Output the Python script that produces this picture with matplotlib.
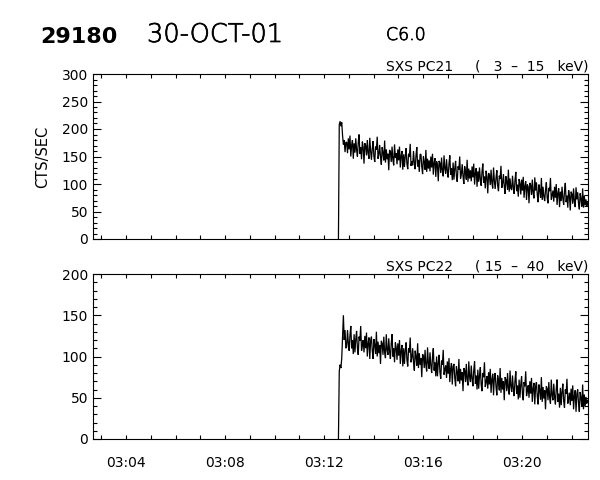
import numpy as np
import matplotlib
matplotlib.use("Agg")
import matplotlib.pyplot as plt
import matplotlib.patheffects as pe
from matplotlib.ticker import MultipleLocator, FuncFormatter

# ---------------- data ----------------
plot_id = "29180"
date_str = "30-OCT-01"
goes_class = "C6.0"
ylabel = "CTS/SEC"
ch1_title = "SXS PC21     (   3  \u2013  15   keV)"
ch2_title = "SXS PC22     ( 15  \u2013  40   keV)"
start_time = "03:12:35"      # first sample of the light curves
cadence_s = 2                # seconds between samples
x_start = "03:02:40"
x_end = "03:22:40"

# SXS PC21 (3-15 keV) counts/s
pc21 = [
    0, 208, 214, 205, 212, 188, 172, 180, 158, 176,
    176, 156, 183, 163, 188, 150, 171, 180, 146, 174,
    157, 183, 162, 150, 175, 190, 155, 167, 145, 177,
    167, 137, 174, 170, 152, 180, 156, 146, 184, 160,
    144, 164, 178, 150, 140, 168, 162, 186, 146, 154,
    171, 149, 135, 167, 157, 143, 179, 139, 163, 145,
    155, 125, 162, 158, 140, 168, 144, 134, 172, 148,
    156, 136, 163, 143, 168, 130, 151, 160, 126, 154,
    131, 151, 165, 137, 127, 155, 149, 173, 133, 141,
    134, 160, 139, 127, 152, 167, 132, 144, 122, 154,
    154, 132, 118, 150, 140, 126, 162, 122, 146, 128,
    143, 123, 150, 130, 155, 117, 138, 147, 113, 141,
    135, 105, 142, 138, 120, 148, 124, 114, 152, 128,
    119, 145, 124, 112, 137, 152, 117, 129, 107, 139,
    108, 128, 142, 114, 104, 132, 126, 150, 110, 118,
    136, 114, 100, 132, 122, 108, 144, 104, 128, 110,
    125, 105, 132, 112, 137, 99, 120, 129, 95, 123,
    104, 130, 109, 97, 122, 137, 102, 114, 92, 124,
    113, 83, 120, 116, 98, 126, 102, 92, 130, 106,
    91, 111, 125, 97, 87, 115, 109, 133, 93, 101,
    118, 96, 82, 114, 104, 90, 126, 86, 110, 92,
    89, 115, 94, 82, 107, 122, 87, 99, 77, 109,
    101, 81, 108, 88, 113, 75, 96, 105, 71, 99,
    95, 65, 102, 98, 80, 108, 84, 74, 112, 88,
    103, 81, 67, 99, 89, 75, 111, 71, 95, 77,
    69, 89, 103, 75, 65, 93, 87, 111, 71, 79,
    88, 68, 95, 75, 100, 62, 83, 92, 58, 86,
    69, 95, 74, 62, 87, 102, 67, 79, 57, 89,
    79, 52, 86, 82, 64, 92, 68, 58, 94, 72,
    85, 65, 54, 83, 73, 59, 92, 57, 79, 61,
    72, 60, 66,
]

# SXS PC22 (15-40 keV) counts/s
pc22 = [
    0, 82, 90, 86, 98, 125, 150, 120, 132, 110,
    112, 132, 116, 107, 126, 137, 110, 120, 103, 127,
    105, 121, 131, 110, 102, 124, 119, 137, 107, 113,
    120, 105, 125, 110, 129, 100, 116, 123, 97, 119,
    124, 107, 97, 121, 114, 103, 130, 100, 118, 104,
    114, 91, 119, 116, 102, 124, 105, 98, 127, 108,
    102, 122, 106, 97, 116, 127, 100, 110, 93, 117,
    111, 96, 116, 101, 120, 91, 107, 114, 88, 110,
    91, 107, 117, 96, 88, 110, 105, 123, 93, 99,
    110, 93, 83, 107, 100, 89, 116, 86, 104, 90,
    98, 75, 103, 100, 86, 108, 89, 82, 111, 92,
    85, 105, 89, 80, 99, 110, 83, 93, 76, 100,
    76, 92, 102, 81, 73, 95, 90, 108, 78, 84,
    89, 74, 94, 79, 98, 69, 85, 92, 66, 88,
    91, 74, 64, 88, 81, 70, 97, 67, 85, 71,
    81, 58, 86, 83, 69, 91, 72, 65, 94, 75,
    69, 89, 73, 64, 83, 94, 67, 77, 60, 84,
    61, 77, 87, 66, 58, 80, 75, 93, 63, 69,
    76, 61, 81, 66, 85, 56, 72, 79, 53, 75,
    80, 63, 53, 77, 70, 59, 86, 56, 74, 60,
    70, 47, 75, 72, 58, 80, 61, 54, 83, 64,
    57, 77, 61, 52, 71, 82, 55, 65, 48, 72,
    50, 66, 76, 55, 47, 69, 64, 82, 52, 58,
    65, 50, 70, 55, 74, 45, 61, 68, 42, 64,
    69, 52, 42, 66, 59, 48, 75, 45, 63, 49,
    59, 36, 64, 61, 47, 69, 50, 43, 72, 53,
    47, 67, 51, 42, 61, 72, 45, 55, 38, 62,
    41, 57, 67, 46, 38, 60, 55, 73, 43, 49,
    56, 41, 61, 46, 65, 36, 52, 59, 33, 55,
    60, 43, 33, 57, 50, 39, 66, 36, 54, 40,
    51, 43, 47,
]


def to_min(hms):
    h, m, s = (int(v) for v in hms.split(":"))
    return (h - 3) * 60 + m + s / 60.0


t0 = to_min(start_time)
t21 = t0 + np.arange(len(pc21)) * cadence_s / 60.0
t22 = t0 + np.arange(len(pc22)) * cadence_s / 60.0

# ---------------- figure ----------------
W, H = 600, 480
fig = plt.figure(figsize=(W / 100, H / 100), dpi=100)
fig.patch.set_facecolor("white")


def rect(x0, y0, x1, y1):
    return [x0 / W, 1 - y1 / H, (x1 - x0) / W, (y1 - y0) / H]


ax1 = fig.add_axes(rect(93, 74, 588, 239))
ax2 = fig.add_axes(rect(93, 274, 588, 439))

fmt = FuncFormatter(lambda v, p: "03:%02d" % int(round(v)))

for ax, t, y, ymax in ((ax1, t21, pc21, 300), (ax2, t22, pc22, 200)):
    ax.plot(t, y, color="black", lw=0.9, solid_joinstyle="miter")
    ax.set_xlim(to_min(x_start), to_min(x_end))
    ax.set_ylim(0, ymax)
    ax.xaxis.set_major_locator(MultipleLocator(4))
    ax.xaxis.set_minor_locator(MultipleLocator(1))
    ax.yaxis.set_major_locator(MultipleLocator(50))
    ax.yaxis.set_minor_locator(MultipleLocator(10))
    ax.tick_params(which="both", direction="in", top=True, right=True,
                   width=0.8, color="black")
    ax.tick_params(axis="x", which="both", length=2.6)
    ax.tick_params(axis="y", which="major", length=5.8, pad=3.6)
    ax.tick_params(axis="y", which="minor", length=2.9)
    for sp in ax.spines.values():
        sp.set_linewidth(0.8)
        sp.set_color("black")
    for lab in ax.get_yticklabels():
        lab.set_fontfamily("DejaVu Sans")
        lab.set_fontsize(10)

ax1.set_xticklabels([])
ax2.xaxis.set_major_formatter(fmt)
ax2.tick_params(axis="x", which="major", pad=12)
for lab in ax2.get_xticklabels():
    lab.set_fontfamily("DejaVu Sans")
    lab.set_fontsize(10)

# ---------------- texts ----------------
def ftext(x, y, s, **kw):
    return fig.text(x / W, 1 - y / H, s, **kw)


thin = [pe.withStroke(linewidth=0.5, foreground="black")]
ftext(40, 43, plot_id, fontsize=16, fontweight="bold", family="DejaVu Sans",
      ha="left", va="baseline")
ftext(147, 42, date_str, fontsize=18.5, fontweight="light", family="DejaVu Sans",
      ha="left", va="baseline", path_effects=thin)
ftext(386, 40, goes_class, fontsize=12.5, fontweight="light", family="DejaVu Sans",
      ha="left", va="baseline", path_effects=thin)
ftext(588, 70, ch1_title, fontsize=10, family="DejaVu Sans", ha="right", va="baseline")
ftext(588, 270, ch2_title, fontsize=10, family="DejaVu Sans", ha="right", va="baseline")
ftext(43, 156.5, ylabel, fontsize=10.5, family="DejaVu Sans", rotation=90,
      ha="center", va="center")

fig.savefig("out.png", dpi=100, facecolor="white")
